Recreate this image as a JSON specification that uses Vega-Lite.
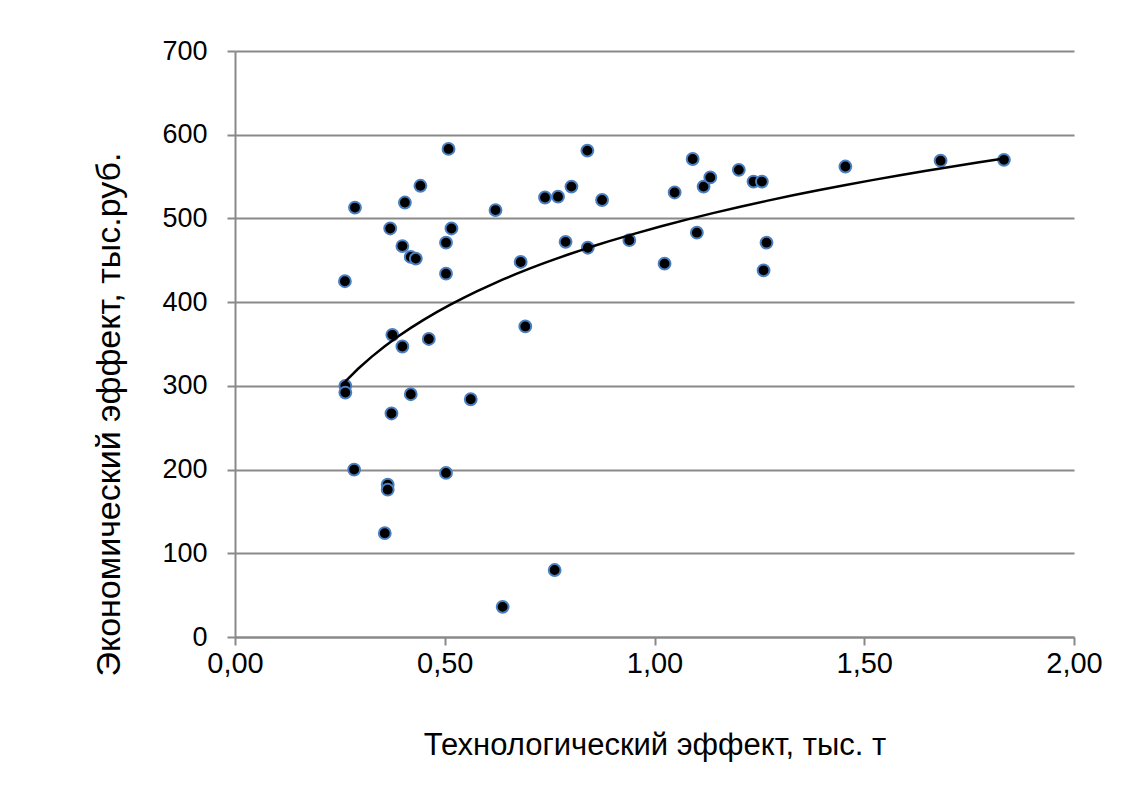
{
  "$schema": "https://vega.github.io/schema/vega-lite/v6.json",
  "width": 839,
  "height": 586,
  "autosize": "none",
  "padding": {"left": 235, "top": 51, "right": 55, "bottom": 160},
  "background": "white",
  "config": {
    "view": {"stroke": null},
    "font": "Liberation Sans",
    "axis": {
      "domainColor": "#898989",
      "domainWidth": 2,
      "tickColor": "#898989",
      "tickWidth": 2,
      "tickSize": 8,
      "labelColor": "black",
      "labelFontSize": 27,
      "titleColor": "black",
      "titleFontSize": 31,
      "titleFontWeight": "normal",
      "gridColor": "#898989",
      "gridWidth": 2,
      "gridOpacity": 1
    }
  },
  "data": {
    "values": [
      {"x": 0.262, "y": 425}, {"x": 0.263, "y": 300}, {"x": 0.263, "y": 292},
      {"x": 0.284, "y": 200}, {"x": 0.286, "y": 513}, {"x": 0.357, "y": 124},
      {"x": 0.364, "y": 182}, {"x": 0.364, "y": 176}, {"x": 0.370, "y": 488},
      {"x": 0.373, "y": 267}, {"x": 0.375, "y": 361}, {"x": 0.399, "y": 467},
      {"x": 0.399, "y": 347}, {"x": 0.405, "y": 519}, {"x": 0.419, "y": 290},
      {"x": 0.419, "y": 454}, {"x": 0.431, "y": 452}, {"x": 0.442, "y": 539},
      {"x": 0.462, "y": 356}, {"x": 0.503, "y": 471}, {"x": 0.503, "y": 434},
      {"x": 0.503, "y": 196}, {"x": 0.509, "y": 583}, {"x": 0.516, "y": 488},
      {"x": 0.562, "y": 284}, {"x": 0.621, "y": 510}, {"x": 0.638, "y": 36},
      {"x": 0.681, "y": 448}, {"x": 0.692, "y": 371}, {"x": 0.739, "y": 525},
      {"x": 0.762, "y": 80}, {"x": 0.770, "y": 526}, {"x": 0.788, "y": 472},
      {"x": 0.802, "y": 538}, {"x": 0.840, "y": 581}, {"x": 0.841, "y": 465},
      {"x": 0.875, "y": 522}, {"x": 0.940, "y": 474}, {"x": 1.024, "y": 446},
      {"x": 1.048, "y": 531}, {"x": 1.091, "y": 571}, {"x": 1.101, "y": 483},
      {"x": 1.117, "y": 538}, {"x": 1.133, "y": 549}, {"x": 1.201, "y": 558},
      {"x": 1.236, "y": 544}, {"x": 1.256, "y": 544}, {"x": 1.260, "y": 438},
      {"x": 1.267, "y": 471}, {"x": 1.455, "y": 562}, {"x": 1.682, "y": 569},
      {"x": 1.833, "y": 570}
    ]
  },
  "encoding": {
    "x": {
      "field": "x",
      "type": "quantitative",
      "scale": {"domain": [0, 2], "nice": false, "zero": false},
      "axis": {
        "values": [0, 0.5, 1, 1.5, 2],
        "labelExpr": "replace(format(datum.value, '.2f'), '.', ',')",
        "grid": false,
        "labelFontSize": 29,
        "labelPadding": 4,
        "labelFlush": false,
        "title": "Технологический эффект, тыс. т",
        "titleBaseline": "middle",
        "titleY": 108
      }
    },
    "y": {
      "field": "y",
      "type": "quantitative",
      "scale": {"domain": [0, 700], "nice": false},
      "axis": {
        "values": [0, 100, 200, 300, 400, 500, 600, 700],
        "grid": true,
        "labelPadding": 20,
        "labelFlush": false,
        "title": "Экономический эффект, тыс.руб.",
        "titleFontSize": 34,
        "titleBaseline": "middle",
        "titleAlign": "center",
        "titleX": -126,
        "titleY": 363
      }
    }
  },
  "layer": [
    {
      "mark": {
        "type": "point",
        "shape": "circle",
        "filled": true,
        "fill": "black",
        "stroke": "#4a7fc1",
        "strokeWidth": 2,
        "size": 140,
        "opacity": 1
      }
    },
    {
      "transform": [{"regression": "y", "on": "x", "method": "log"}],
      "mark": {"type": "line", "color": "black", "strokeWidth": 2.5}
    }
  ]
}
